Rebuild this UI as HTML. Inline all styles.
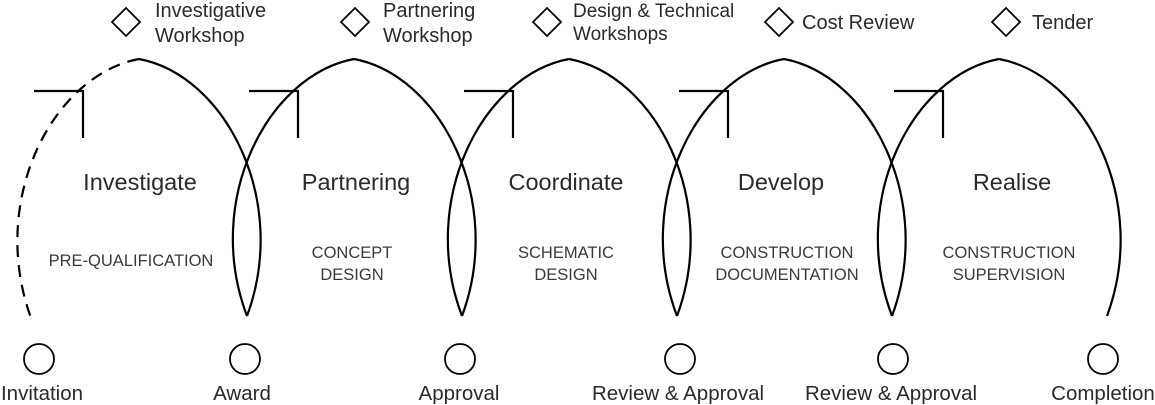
<!DOCTYPE html>
<html><head><meta charset="utf-8"><style>
html,body{margin:0;padding:0;background:#fff;}
svg{display:block;}
text{font-family:"Liberation Sans",sans-serif;fill:#2a2a2a;}
.t{font-size:23.5px;}
.s{font-size:16.5px;fill:#3a3a3a;}
.h{font-size:20px;}
.l{font-size:19px;}
.b{font-size:20.5px;}
</style></head><body>
<svg width="1155" height="405" viewBox="0 0 1155 405" xmlns="http://www.w3.org/2000/svg">
<defs>
  <g id="arch"><path d="M139,59 C53,75 -12,200 32,316"/><path d="M139,59 C225,75 290,200 247,316"/></g>
</defs>
<g fill="none" stroke="#000" stroke-width="2.2">
  <path d="M139,59 C53,75 -12,200 31,318" stroke-dasharray="12,8"/>
  <path d="M139,59 C225,75 290,200 247,316"/>
  <use href="#arch" transform="translate(215,0)"/>
  <use href="#arch" transform="translate(430,0)"/>
  <use href="#arch" transform="translate(645,0)"/>
  <use href="#arch" transform="translate(860,0)"/>
  <path d="M34,91 H83 V138"/>
  <path d="M249,91 H298 V138"/>
  <path d="M464,91 H513 V138"/>
  <path d="M679,91 H728 V138"/>
  <path d="M894,91 H943 V138"/>
  <g stroke-width="1.8">
  <circle cx="39" cy="359" r="15"/>
  <circle cx="245" cy="359" r="15"/>
  <circle cx="460" cy="359" r="15"/>
  <circle cx="680" cy="359" r="15"/>
  <circle cx="893" cy="359" r="15"/>
  <circle cx="1103" cy="359" r="15"/>
  <path d="M126,8 L140,22 L126,36 L112,22 Z"/>
  <path d="M355,8 L369,22 L355,36 L341,22 Z"/>
  <path d="M547,8 L561,22 L547,36 L533,22 Z"/>
  <path d="M779,8 L793,22 L779,36 L765,22 Z"/>
  <path d="M1006,8 L1020,22 L1006,36 L992,22 Z"/>
  </g>
</g>
<text class="h" x="155" y="17">Investigative</text>
<text class="h" x="155" y="42">Workshop</text>
<text class="h" x="383" y="17">Partnering</text>
<text class="h" x="383" y="42">Workshop</text>
<text class="l" x="573" y="17">Design &amp; Technical</text>
<text class="l" x="573" y="40">Workshops</text>
<text class="h" x="802" y="29">Cost Review</text>
<text class="h" x="1032" y="29">Tender</text>
<g text-anchor="middle">
<text class="t" x="140" y="190">Investigate</text>
<text class="t" x="356" y="190">Partnering</text>
<text class="t" x="566" y="190">Coordinate</text>
<text class="t" x="781" y="190">Develop</text>
<text class="t" x="1012" y="190">Realise</text>
<text class="s" x="131" y="266">PRE-QUALIFICATION</text>
<text class="s" x="352" y="258">CONCEPT</text>
<text class="s" x="352" y="280">DESIGN</text>
<text class="s" x="566" y="258">SCHEMATIC</text>
<text class="s" x="566" y="280">DESIGN</text>
<text class="s" x="787" y="258">CONSTRUCTION</text>
<text class="s" x="787" y="280">DOCUMENTATION</text>
<text class="s" x="1009" y="258">CONSTRUCTION</text>
<text class="s" x="1009" y="280">SUPERVISION</text>
<text class="b" x="42" y="400">Invitation</text>
<text class="b" x="242" y="400">Award</text>
<text class="b" x="459" y="400">Approval</text>
<text class="b" x="678" y="400">Review &amp; Approval</text>
<text class="b" x="891" y="400">Review &amp; Approval</text>
<text class="b" x="1103" y="400">Completion</text>
</g>
</svg>
</body></html>
